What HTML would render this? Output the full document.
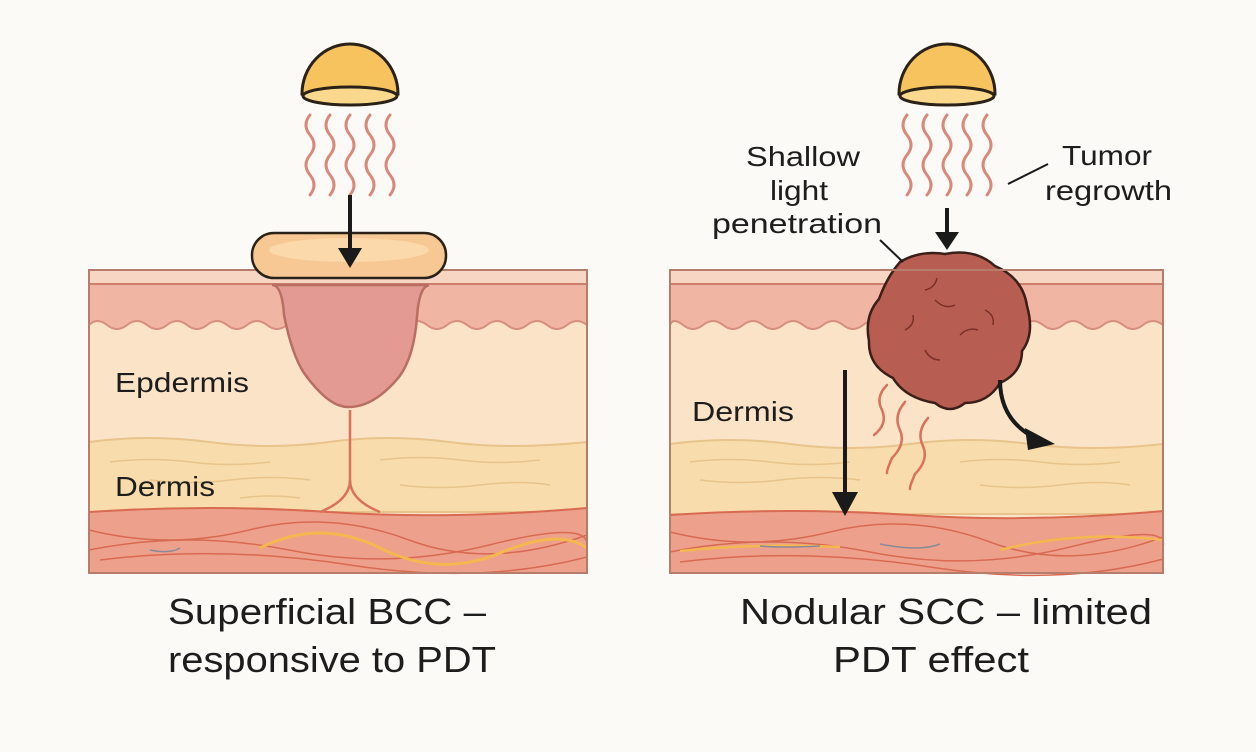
<!DOCTYPE html>
<html><head><meta charset="utf-8"><style>
html,body{margin:0;padding:0;background:#fcfaf7;}
svg{display:block}
text{font-family:"Liberation Sans",sans-serif;fill:#1d1d1d}
</style></head><body>
<svg width="1256" height="752" viewBox="0 0 1256 752" xmlns="http://www.w3.org/2000/svg">
<rect width="1256" height="752" fill="#fcfaf7"/>
<defs>
<g id="lamp">
 <path d="M-48,86 A48,50 0 0 1 48,86 Z" fill="#f6c35e" stroke="#2a2218" stroke-width="3"/>
 <ellipse cx="0" cy="88" rx="47" ry="9" fill="#fad98e" stroke="#2a2218" stroke-width="3"/>
</g>
<g id="waves" fill="none" stroke="#d9887a" stroke-width="3" stroke-linecap="round">
 <path d="M-40,0 q-8,10 0,20 q8,10 0,20 q-8,10 0,20 q8,10 0,20"/>
 <path d="M-20,0 q-8,10 0,20 q8,10 0,20 q-8,10 0,20 q8,10 0,20"/>
 <path d="M0,0 q-8,10 0,20 q8,10 0,20 q-8,10 0,20 q8,10 0,20"/>
 <path d="M20,0 q-8,10 0,20 q8,10 0,20 q-8,10 0,20 q8,10 0,20"/>
 <path d="M40,0 q-8,10 0,20 q8,10 0,20 q-8,10 0,20 q8,10 0,20"/>
</g>
</defs>

<!-- LEFT PANEL -->
<g>
 <rect x="89" y="270" width="498" height="303" fill="#fbe3c8"/>
 <rect x="89" y="270" width="498" height="14" fill="#f8d6c4"/>
 <path d="M89,284 H587 V325 q-10,-8 -20,0 t-20,0 t-20,0 t-20,0 t-20,0 t-20,0 t-20,0 t-20,0 t-20,0 t-20,0 t-20,0 t-20,0 t-20,0 t-20,0 t-20,0 t-20,0 t-20,0 t-20,0 t-20,0 t-20,0 t-20,0 t-20,0 t-20,0 t-20,0 t-18,0 Z" fill="#f1b6a3" stroke="#d98d7e" stroke-width="2"/>
 <line x1="89" y1="284" x2="587" y2="284" stroke="#d07f6e" stroke-width="2"/>
 <path d="M89,442 q60,-8 120,0 t120,0 t120,0 t138,0 V512 H89 Z" fill="#f8dcab" stroke="#e8c48c" stroke-width="2"/>
 <g stroke="#e8c48c" stroke-width="1.5" fill="none">
  <path d="M110,462 q40,-5 80,0 t80,0"/><path d="M150,480 q40,5 80,0 t80,0"/><path d="M380,460 q40,-5 80,0 t80,0"/><path d="M400,485 q40,5 80,0 t70,0"/><path d="M240,498 q30,-4 60,0"/>
 </g>
 <path d="M89,512 q120,-8 240,0 t258,-4 V573 H89 Z" fill="#eda18d" stroke="#d96a52" stroke-width="2"/>
 <g stroke="#d96a52" stroke-width="1.5" fill="none">
  <path d="M89,530 q80,20 160,0 t160,10 t178,-5"/><path d="M89,550 q100,-20 200,0 t200,-5 t98,0"/><path d="M100,560 q120,-15 250,5 t237,-8"/>
 </g>
 <path d="M260,548 q60,-30 120,0 t120,5 t87,-5" stroke="#f5b84e" stroke-width="3" fill="none"/>
 <path d="M150,550 q20,4 30,-2" stroke="#8a8a9a" stroke-width="1.5" fill="none"/>
 <path d="M350,410 V480 q0,20 -30,32 M350,480 q0,20 30,32" stroke="#d9725c" stroke-width="2.5" fill="none"/>
 <path d="M272,285 q10,0 12,30 q8,40 20,58 q25,35 45,34 q25,0 50,-30 q15,-20 18,-60 q2,-30 12,-32 Z" fill="#e29a92" stroke="#b86e62" stroke-width="2.5"/>
 <rect x="89" y="270" width="498" height="303" fill="none" stroke="#b67c6c" stroke-width="2"/>
 <rect x="252" y="233" width="194" height="45" rx="22" fill="#f8c894" stroke="#2a2218" stroke-width="2.5"/>
 <ellipse cx="349" cy="250" rx="80" ry="12" fill="#fbd9aa"/>
 <use href="#lamp" transform="translate(350,8)"/>
 <use href="#waves" transform="translate(350,115)"/>
 <line x1="350" y1="195" x2="350" y2="252" stroke="#1a1a1a" stroke-width="4"/>
 <path d="M338,248 L362,248 L350,268 Z" fill="#1a1a1a"/>
 <text x="115" y="392" font-size="28" textLength="134" lengthAdjust="spacingAndGlyphs">Epdermis</text>
 <text x="115" y="496" font-size="28" textLength="100" lengthAdjust="spacingAndGlyphs">Dermis</text>
</g>

<!-- RIGHT PANEL -->
<g>
 <rect x="670" y="270" width="493" height="303" fill="#fbe3c8"/>
 <rect x="670" y="270" width="493" height="14" fill="#f8d6c4"/>
 <path d="M670,284 H1163 V325 q-10,-8 -20,0 t-20,0 t-20,0 t-20,0 t-20,0 t-20,0 t-20,0 t-20,0 t-20,0 t-20,0 t-20,0 t-20,0 t-20,0 t-20,0 t-20,0 t-20,0 t-20,0 t-20,0 t-20,0 t-20,0 t-20,0 t-20,0 t-20,0 t-20,0 t-13,0 Z" fill="#f1b6a3" stroke="#d98d7e" stroke-width="2"/>
 <line x1="670" y1="284" x2="1163" y2="284" stroke="#d07f6e" stroke-width="2"/>
 <path d="M670,444 q60,-8 120,0 t120,0 t120,0 t133,0 V514 H670 Z" fill="#f8dcab" stroke="#e8c48c" stroke-width="2"/>
 <g stroke="#e8c48c" stroke-width="1.5" fill="none">
  <path d="M690,462 q40,-5 80,0 t80,0"/><path d="M700,480 q40,5 80,0 t80,0"/><path d="M960,462 q40,-5 80,0 t80,0"/><path d="M980,485 q40,5 80,0 t70,0"/>
 </g>
 <path d="M670,515 q120,-8 240,0 t253,-4 V573 H670 Z" fill="#eda18d" stroke="#d96a52" stroke-width="2"/>
 <g stroke="#d96a52" stroke-width="1.5" fill="none">
  <path d="M670,532 q80,20 160,0 t160,10 t173,-5"/><path d="M670,552 q100,-20 200,0 t200,-5 t93,0"/><path d="M680,562 q120,-15 250,5 t233,-8"/>
 </g>
 <path d="M680,551 q80,-8 160,-4 M1000,550 q80,-20 163,-10" stroke="#f5b84e" stroke-width="2.5" fill="none"/>
 <path d="M880,544 q40,8 60,0 M820,546 q-40,2 -60,0" stroke="#8a8a9a" stroke-width="1.5" fill="none"/>
 <g fill="none" stroke="#d9725c" stroke-width="2.5" stroke-linecap="round">
  <path d="M887,385 q-12,12 -5,25 q6,14 -8,25"/>
  <path d="M905,402 q-12,14 -5,28 q6,14 -8,28 q-6,14 -5,15"/>
  <path d="M928,418 q-12,14 -5,28 q6,14 -8,28 q-6,14 -5,15"/>
 </g>
 <path d="M900,262 q20,-12 45,-8 q30,-6 50,12 q28,12 32,40 q8,28 -5,45 q0,22 -22,32 q-12,20 -35,20 q-15,12 -30,0 q-30,-5 -42,-25 q-25,-12 -24,-37 q-5,-25 10,-42 q8,-22 21,-37 Z" fill="#b85d52" stroke="#3a1e18" stroke-width="2.5"/>
 <g fill="none" stroke="#7a3028" stroke-width="1.5">
  <path d="M925,290 q10,-2 12,-12 M935,300 q10,10 20,5"/><path d="M905,330 q10,-5 8,-15"/><path d="M960,335 q8,-8 18,-5"/><path d="M925,350 q5,10 15,10"/><path d="M985,310 q10,5 8,15"/>
 </g>
 <rect x="670" y="270" width="493" height="303" fill="none" stroke="#b67c6c" stroke-width="2"/>
 <use href="#lamp" transform="translate(947,8)"/>
 <use href="#waves" transform="translate(947,115)"/>
 <line x1="947" y1="208" x2="947" y2="235" stroke="#1a1a1a" stroke-width="4"/>
 <path d="M935,232 L959,232 L947,250 Z" fill="#1a1a1a"/>
 <line x1="880" y1="240" x2="903" y2="262" stroke="#1a1a1a" stroke-width="2"/>
 <line x1="1008" y1="184" x2="1048" y2="164" stroke="#1a1a1a" stroke-width="2"/>
 <line x1="845" y1="370" x2="845" y2="495" stroke="#1a1a1a" stroke-width="4"/>
 <path d="M832,492 L858,492 L845,516 Z" fill="#1a1a1a"/>
 <path d="M1000,380 q0,40 35,58" stroke="#1a1a1a" stroke-width="4" fill="none"/>
 <path d="M1025,428 L1055,444 L1028,450 Z" fill="#1a1a1a"/>
 <text x="746" y="166" font-size="28" textLength="114" lengthAdjust="spacingAndGlyphs">Shallow</text>
 <text x="770" y="200" font-size="28" textLength="58" lengthAdjust="spacingAndGlyphs">light</text>
 <text x="712" y="233" font-size="28" textLength="170" lengthAdjust="spacingAndGlyphs">penetration</text>
 <text x="1062" y="165" font-size="28" textLength="90" lengthAdjust="spacingAndGlyphs">Tumor</text>
 <text x="1045" y="200" font-size="28" textLength="127" lengthAdjust="spacingAndGlyphs">regrowth</text>
 <text x="692" y="421" font-size="28" textLength="102" lengthAdjust="spacingAndGlyphs">Dermis</text>
</g>

<text x="168" y="624" font-size="36" textLength="318" lengthAdjust="spacingAndGlyphs">Superficial BCC –</text>
<text x="168" y="672" font-size="36" textLength="328" lengthAdjust="spacingAndGlyphs">responsive to PDT</text>
<text x="740" y="624" font-size="36" textLength="412" lengthAdjust="spacingAndGlyphs">Nodular SCC – limited</text>
<text x="833" y="672" font-size="36" textLength="196" lengthAdjust="spacingAndGlyphs">PDT effect</text>
</svg>
</body></html>
